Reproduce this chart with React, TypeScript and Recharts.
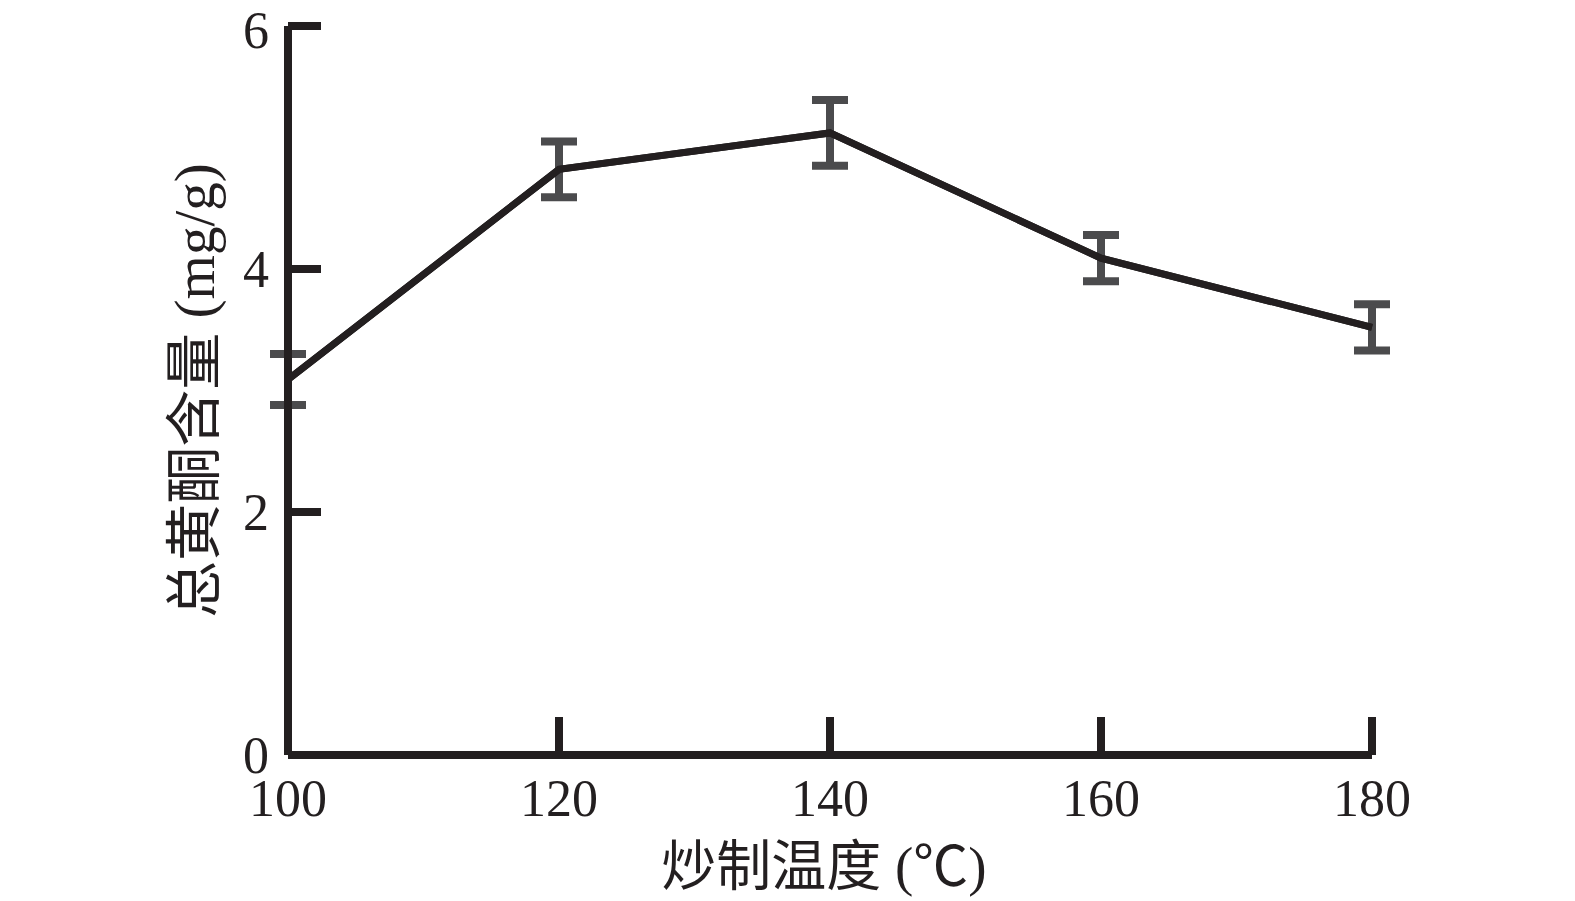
import { LineChart, Line, XAxis, YAxis, ErrorBar } from 'recharts';

// 炒制温度 (℃)
const temps = [100, 120, 140, 160, 180];
// 总黄酮含量 (mg/g)
const flavonoid = [3.09, 4.82, 5.12, 4.09, 3.52];
const flavonoidErr = [0.21, 0.23, 0.27, 0.19, 0.19];

const xTicks = [100, 120, 140, 160, 180];
const yTicks = [0, 2, 4, 6];

const data = temps.map((t, i) => ({ temp: t, value: flavonoid[i], err: flavonoidErr[i] }));

const INK = '#231f20';
const BAR = '#4b4b4d';
const FONT = "'Liberation Serif', 'Noto Sans CJK SC', serif";

function XTitle({ viewBox }: any) {
  const { x, y, width } = viewBox;
  return (
    <text x={x + width / 2 - 6} y={y + 130} textAnchor="middle" fontSize={55} fill={INK} fontFamily={FONT}>
      炒制温度 (℃)
    </text>
  );
}

function YTitle({ viewBox }: any) {
  const { y, height } = viewBox;
  const cx = 194;
  const cy = y + height / 2;
  return (
    <text
      x={cx}
      y={cy}
      transform={`rotate(-90, ${cx}, ${cy})`}
      textAnchor="middle"
      dominantBaseline="central"
      fontSize={57}
      fill={INK}
      fontFamily={FONT}
    >
      总黄酮含量 (mg/g)
    </text>
  );
}

export default function App() {
  return (
    <div style={{ position: 'absolute', left: 0, top: 0, background: '#fff' }}>
      <LineChart
        width={1575}
        height={901}
        data={data}
        margin={{ top: 26, right: 203, bottom: 86, left: 228 }}
      >
        <XAxis
          dataKey="temp"
          type="number"
          domain={[100, 180]}
          ticks={xTicks}
          height={60}
          axisLine={{ stroke: INK, strokeWidth: 8 }}
          tickLine={{ stroke: INK, strokeWidth: 8 }}
          tickSize={-38}
          tickMargin={62}
          tick={{ fontSize: 52, fill: INK, fontFamily: FONT }}
          label={<XTitle />}
        />
        <YAxis
          type="number"
          domain={[0, 6]}
          ticks={yTicks}
          width={60}
          axisLine={{ stroke: INK, strokeWidth: 8 }}
          tickLine={{ stroke: INK, strokeWidth: 8 }}
          tickSize={-33}
          tickMargin={52}
          tick={{ fontSize: 52, fill: INK, fontFamily: FONT }}
          label={<YTitle />}
        />
        <Line
          dataKey="value"
          type="linear"
          stroke={INK}
          strokeWidth={7}
          dot={false}
          isAnimationActive={false}
        >
          <ErrorBar dataKey="err" width={18} stroke={BAR} strokeWidth={8} direction="y" />
        </Line>
        <Line
          dataKey="value"
          type="linear"
          stroke={INK}
          strokeWidth={7}
          dot={false}
          isAnimationActive={false}
        />
      </LineChart>
    </div>
  );
}
